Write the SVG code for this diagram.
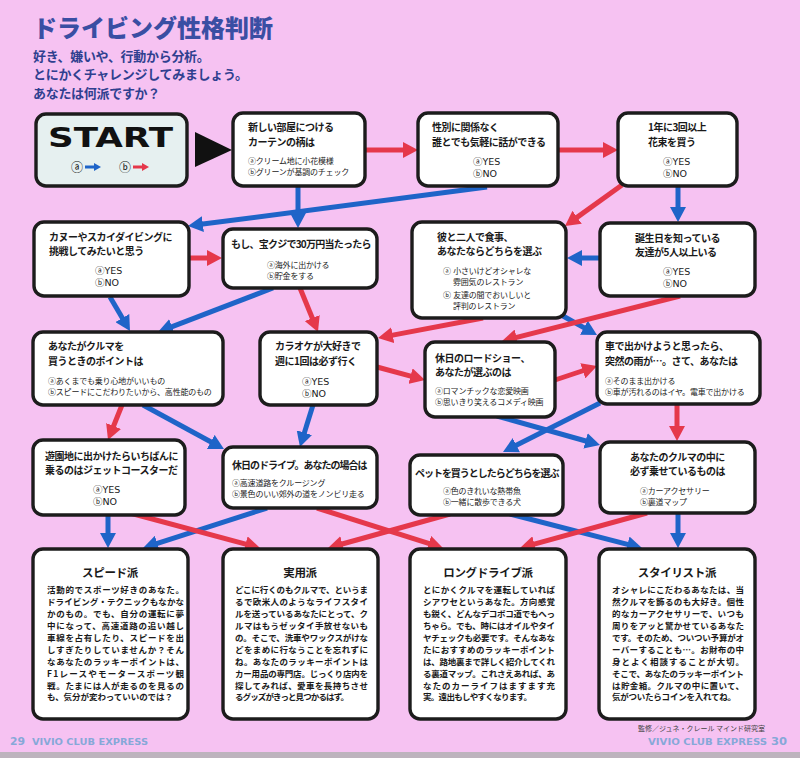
<svg xmlns="http://www.w3.org/2000/svg" width="800" height="758" viewBox="0 0 800 758">
<defs>
<style>
.box{fill:#fff;stroke:#1c1c1c;stroke-width:3.4}
.q{font-family:"Noto Sans CJK JP","Noto Sans CJK SC",sans-serif;font-weight:700;font-size:10px;letter-spacing:-0.5px;fill:#1a1a1a}
.o{font-family:"DejaVu Sans","Noto Sans CJK JP","Noto Sans CJK SC",sans-serif;font-size:8px;letter-spacing:-0.2px;fill:#1a1a1a}
.yn{font-family:"DejaVu Sans","Noto Sans CJK JP",sans-serif;font-size:9.5px;fill:#1a1a1a}
.rt{font-family:"Noto Sans CJK JP","Noto Sans CJK SC",sans-serif;font-weight:700;font-size:11.5px;letter-spacing:-0.3px;text-anchor:middle;fill:#1a1a1a}
.rb{font-family:"Noto Sans CJK JP","Noto Sans CJK SC",sans-serif;font-weight:700;font-size:8.5px;fill:#1a1a1a}
.b{stroke:#1f64c8;stroke-width:5;fill:none;marker-end:url(#ab)}
.r{stroke:#e5384b;stroke-width:5;fill:none;marker-end:url(#ar)}
.ttl{font-family:"Noto Sans CJK JP","Noto Sans CJK SC",sans-serif;font-weight:900;font-size:24px;fill:#3a4ea3}
.sub{font-family:"Noto Sans CJK JP","Noto Sans CJK SC",sans-serif;font-weight:700;font-size:13px;letter-spacing:-0.3px;fill:#2f3f8f}
.ft{font-family:"DejaVu Sans",sans-serif;font-weight:700;fill:#86a8d8}
</style>
<marker id="ab" markerUnits="userSpaceOnUse" markerWidth="16" markerHeight="16" refX="4" refY="8" orient="auto"><path d="M0,0 L15,8 L0,16 z" fill="#1f64c8"/></marker>
<marker id="ar" markerUnits="userSpaceOnUse" markerWidth="16" markerHeight="16" refX="4" refY="8" orient="auto"><path d="M0,0 L15,8 L0,16 z" fill="#e5384b"/></marker>
<marker id="sb" markerUnits="userSpaceOnUse" markerWidth="8" markerHeight="8" refX="2" refY="4" orient="auto"><path d="M0,0 L7,4 L0,8 z" fill="#1f64c8"/></marker>
<marker id="sr" markerUnits="userSpaceOnUse" markerWidth="8" markerHeight="8" refX="2" refY="4" orient="auto"><path d="M0,0 L7,4 L0,8 z" fill="#e5384b"/></marker>
</defs>
<rect x="0" y="0" width="800" height="758" fill="#f6c2f2"/>
<rect x="0" y="752" width="800" height="6" fill="#bdb3bd"/>

<g id="title">
<text class="ttl" x="33" y="37">ドライビング性格判断</text>
<text class="sub" x="33" y="61">好き、嫌いや、行動から分析。</text>
<text class="sub" x="33" y="79">とにかくチャレンジしてみましょう。</text>
<text class="sub" x="33" y="98">あなたは何派ですか？</text>
</g>

<g id="connectors">
<line class="b" x1="298" y1="186" x2="298" y2="217"/>
<line class="b" x1="487" y1="187" x2="198.9" y2="224.6"/>
<line class="b" x1="678" y1="187" x2="678" y2="211"/>
<line class="b" x1="600" y1="258" x2="578" y2="258"/>
<line class="b" x1="110" y1="297" x2="124.4" y2="321.5"/>
<line class="b" x1="273" y1="288" x2="168.3" y2="328.1"/>
<line class="b" x1="563" y1="316" x2="587.4" y2="329.6"/>
<line class="b" x1="143" y1="405" x2="214.3" y2="443.8"/>
<line class="b" x1="313" y1="405" x2="303.2" y2="436.5"/>
<line class="b" x1="497" y1="416" x2="589.4" y2="442"/>
<line class="b" x1="600" y1="403" x2="512.8" y2="447"/>
<line class="b" x1="108" y1="514" x2="108" y2="537"/>
<line class="b" x1="267" y1="508" x2="153.5" y2="544.6"/>
<line class="b" x1="510" y1="514" x2="631.4" y2="545.3"/>
<line class="b" x1="678" y1="513" x2="678" y2="537"/>
<line class="r" x1="365" y1="150" x2="407" y2="150"/>
<line class="r" x1="558" y1="150" x2="607" y2="150"/>
<line class="r" x1="622" y1="185" x2="573.9" y2="219.6"/>
<line class="r" x1="189" y1="258" x2="211" y2="258"/>
<line class="r" x1="300" y1="288" x2="313.8" y2="321.8"/>
<line class="r" x1="483" y1="318" x2="388.8" y2="335.9"/>
<line class="r" x1="680" y1="296" x2="512.7" y2="338.3"/>
<line class="r" x1="122" y1="405" x2="112.1" y2="429.8"/>
<line class="r" x1="377" y1="367" x2="414.4" y2="377.1"/>
<line class="r" x1="555" y1="380" x2="586.6" y2="369.5"/>
<line class="r" x1="677" y1="403" x2="677" y2="430"/>
<line class="r" x1="130" y1="513" x2="249.4" y2="545.1"/>
<line class="r" x1="317" y1="508" x2="432.5" y2="544.7"/>
<line class="r" x1="450" y1="514" x2="338.6" y2="545"/>
<line class="r" x1="647" y1="513" x2="530.6" y2="545.1"/>
</g>

<g id="start">
<rect x="36" y="114" width="151" height="72" rx="10" fill="#e6f0f0" stroke="#1c1c1c" stroke-width="3.4"/>
<text x="48" y="147" font-family="DejaVu Sans, sans-serif" font-weight="900" font-size="26" textLength="125" lengthAdjust="spacingAndGlyphs" fill="#111">START</text>
<text x="71" y="172" font-family="DejaVu Sans, Noto Sans CJK JP, sans-serif" font-size="12" fill="#111">ⓐ</text>
<line x1="85" y1="167" x2="96" y2="167" stroke="#1f64c8" stroke-width="3" marker-end="url(#sb)"/>
<text x="119" y="172" font-family="DejaVu Sans, Noto Sans CJK JP, sans-serif" font-size="12" fill="#111">ⓑ</text>
<line x1="133" y1="167" x2="144" y2="167" stroke="#e5384b" stroke-width="3" marker-end="url(#sr)"/>
<path d="M195,132 L232,150 L195,167 z" fill="#111"/>
</g>

<g id="n1">
<rect class="box" x="233" y="113" width="132" height="73" rx="10"/>
<text class="q" x="248" y="131">新しい部屋につける</text>
<text class="q" x="248" y="146">カーテンの柄は</text>
<text class="o" x="248" y="164">ⓐクリーム地に小花模様</text>
<text class="o" x="248" y="175">ⓑグリーンが基調のチェック</text>
</g>

<g id="n2">
<rect class="box" x="418" y="113" width="140" height="73" rx="10"/>
<text class="q" x="432" y="131">性別に関係なく</text>
<text class="q" x="432" y="146">誰とでも気軽に話ができる</text>
<text class="yn" x="473" y="165">ⓐYES</text>
<text class="yn" x="473" y="177">ⓑNO</text>
</g>

<g id="n3">
<rect class="box" x="618" y="113" width="119" height="73" rx="10"/>
<text class="q" x="648" y="131">1年に3回以上</text>
<text class="q" x="648" y="146">花束を買う</text>
<text class="yn" x="663" y="165">ⓐYES</text>
<text class="yn" x="663" y="177">ⓑNO</text>
</g>

<g id="n4">
<rect class="box" x="34" y="222" width="155" height="74" rx="10"/>
<text class="q" x="49" y="241">カヌーやスカイダイビングに</text>
<text class="q" x="49" y="255">挑戦してみたいと思う</text>
<text class="yn" x="95" y="274">ⓐYES</text>
<text class="yn" x="95" y="286">ⓑNO</text>
</g>

<g id="n5">
<rect class="box" x="223" y="229" width="154" height="59" rx="10"/>
<text class="q" x="231" y="248" textLength="140">もし、宝クジで30万円当たったら</text>
<text class="o" x="267" y="268">ⓐ海外に出かける</text>
<text class="o" x="267" y="279">ⓑ貯金をする</text>
</g>

<g id="n6">
<rect class="box" x="412" y="222" width="154" height="96" rx="10"/>
<text class="q" x="437" y="241">彼と二人で食事、</text>
<text class="q" x="437" y="255">あなたならどちらを選ぶ</text>
<text class="o" x="443" y="274">ⓐ 小さいけどオシャレな</text>
<text class="o" x="453" y="285">雰囲気のレストラン</text>
<text class="o" x="443" y="298">ⓑ 友達の間でおいしいと</text>
<text class="o" x="453" y="309">評判のレストラン</text>
</g>

<g id="n7">
<rect class="box" x="600" y="223" width="155" height="73" rx="10"/>
<text class="q" x="635" y="242">誕生日を知っている</text>
<text class="q" x="635" y="256">友達が5人以上いる</text>
<text class="yn" x="663" y="275">ⓐYES</text>
<text class="yn" x="663" y="287">ⓑNO</text>
</g>

<g id="n8">
<rect class="box" x="33" y="332" width="190" height="73" rx="10"/>
<text class="q" x="48" y="350">あなたがクルマを</text>
<text class="q" x="48" y="365">買うときのポイントは</text>
<text class="o" x="48" y="384">ⓐあくまでも乗り心地がいいもの</text>
<text class="o" x="48" y="395">ⓑスピードにこだわりたいから、高性能のもの</text>
</g>

<g id="n9">
<rect class="box" x="260" y="332" width="117" height="73" rx="10"/>
<text class="q" x="275" y="350">カラオケが大好きで</text>
<text class="q" x="275" y="365">週に1回は必ず行く</text>
<text class="yn" x="302" y="385">ⓐYES</text>
<text class="yn" x="302" y="397">ⓑNO</text>
</g>

<g id="n10">
<rect class="box" x="425" y="342" width="130" height="75" rx="10"/>
<text class="q" x="435" y="362">休日のロードショー、</text>
<text class="q" x="435" y="376">あなたが選ぶのは</text>
<text class="o" x="435" y="394">ⓐロマンチックな恋愛映画</text>
<text class="o" x="435" y="405">ⓑ思いきり笑えるコメディ映画</text>
</g>

<g id="n11">
<rect class="box" x="597" y="332" width="163" height="72" rx="10"/>
<text class="q" x="605" y="350">車で出かけようと思ったら、</text>
<text class="q" x="605" y="365">突然の雨が…。さて、あなたは</text>
<text class="o" x="605" y="384">ⓐそのまま出かける</text>
<text class="o" x="605" y="395">ⓑ車が汚れるのはイヤ。電車で出かける</text>
</g>

<g id="n12">
<rect class="box" x="33" y="440" width="152" height="75" rx="10"/>
<text class="q" x="45" y="460">遊園地に出かけたらいちばんに</text>
<text class="q" x="45" y="474">乗るのはジェットコースターだ</text>
<text class="yn" x="93" y="493">ⓐYES</text>
<text class="yn" x="93" y="505">ⓑNO</text>
</g>

<g id="n13">
<rect class="box" x="223" y="447" width="154" height="61" rx="10"/>
<text class="q" x="232" y="469" textLength="135">休日のドライブ。あなたの場合は</text>
<text class="o" x="232" y="486">ⓐ高速道路をクルージング</text>
<text class="o" x="232" y="497">ⓑ景色のいい郊外の道をノンビリ走る</text>
</g>

<g id="n14">
<rect class="box" x="410" y="455" width="153" height="60" rx="10"/>
<text class="q" x="415" y="477" textLength="144">ペットを買うとしたらどちらを選ぶ</text>
<text class="o" x="443" y="494">ⓐ色のきれいな熱帯魚</text>
<text class="o" x="443" y="505">ⓑ一緒に散歩できる犬</text>
</g>

<g id="n15">
<rect class="box" x="600" y="442" width="155" height="71" rx="10"/>
<text class="q" x="630" y="461">あなたのクルマの中に</text>
<text class="q" x="630" y="475">必ず乗せているものは</text>
<text class="o" x="640" y="494">ⓐカーアクセサリー</text>
<text class="o" x="640" y="505">ⓑ裏道マップ</text>
</g>

<g id="r1">
<rect class="box" x="33" y="549" width="155" height="170" rx="10"/>
<text class="rt" x="110" y="577">スピード派</text>
<text class="rb" x="47" y="593" textLength="137">活動的でスポーツ好きのあなた。</text>
<text class="rb" x="47" y="605" textLength="137">ドライビング・テクニックもなかな</text>
<text class="rb" x="47" y="617" textLength="137">かのもの。でも、自分の運転に夢</text>
<text class="rb" x="47" y="629" textLength="137">中になって、高速道路の追い越し</text>
<text class="rb" x="47" y="641" textLength="137">車線を占有したり、スピードを出</text>
<text class="rb" x="47" y="652.5" textLength="137">しすぎたりしていませんか？そん</text>
<text class="rb" x="47" y="664.5" textLength="137">なあなたのラッキーポイントは、</text>
<text class="rb" x="47" y="676.5" textLength="137">F1レースやモータースポーツ観</text>
<text class="rb" x="47" y="688.5" textLength="137">戦。たまには人が走るのを見るの</text>
<text class="rb" x="47" y="700" textLength="126">も、気分が変わっていいのでは？</text>
</g>

<g id="r2">
<rect class="box" x="223" y="549" width="155" height="170" rx="10"/>
<text class="rt" x="300" y="577">実用派</text>
<text class="rb" x="235" y="593" textLength="133">どこに行くのもクルマで、というま</text>
<text class="rb" x="235" y="605" textLength="133">るで欧米人のようなライフスタイ</text>
<text class="rb" x="235" y="617" textLength="133">ルを送っているあなたにとって、ク</text>
<text class="rb" x="235" y="629" textLength="133">ルマはもうゼッタイ手放せないも</text>
<text class="rb" x="235" y="641" textLength="133">の。そこで、洗車やワックスがけな</text>
<text class="rb" x="235" y="652.5" textLength="133">どをまめに行なうことを忘れずに</text>
<text class="rb" x="235" y="664.5" textLength="133">ね。あなたのラッキーポイントは</text>
<text class="rb" x="235" y="676.5" textLength="133">カー用品の専門店。じっくり店内を</text>
<text class="rb" x="235" y="688.5" textLength="133">探してみれば、愛車を長持ちさせ</text>
<text class="rb" x="235" y="700" textLength="114">るグッズがきっと見つかるはず。</text>
</g>

<g id="r3">
<rect class="box" x="410" y="549" width="156" height="170" rx="10"/>
<text class="rt" x="488" y="577">ロングドライブ派</text>
<text class="rb" x="423" y="593" textLength="132">とにかくクルマを運転していれば</text>
<text class="rb" x="423" y="605" textLength="132">シアワセというあなた。方向感覚</text>
<text class="rb" x="423" y="617" textLength="132">も鋭く、どんなデコボコ道でもへっ</text>
<text class="rb" x="423" y="629" textLength="132">ちゃら。でも、時にはオイルやタイ</text>
<text class="rb" x="423" y="641" textLength="132">ヤチェックも必要です。そんなあな</text>
<text class="rb" x="423" y="652.5" textLength="132">たにおすすめのラッキーポイント</text>
<text class="rb" x="423" y="664.5" textLength="132">は、路地裏まで詳しく紹介してくれ</text>
<text class="rb" x="423" y="676.5" textLength="132">る裏道マップ。これさえあれば、あ</text>
<text class="rb" x="423" y="688.5" textLength="132">なたのカーライフはますます充</text>
<text class="rb" x="423" y="700" textLength="109">実。遠出もしやすくなります。</text>
</g>

<g id="r4">
<rect class="box" x="599" y="549" width="156" height="170" rx="10"/>
<text class="rt" x="677" y="577">スタイリスト派</text>
<text class="rb" x="612" y="593" textLength="132">オシャレにこだわるあなたは、当</text>
<text class="rb" x="612" y="605" textLength="132">然クルマを飾るのも大好き。個性</text>
<text class="rb" x="612" y="617" textLength="132">的なカーアクセサリーで、いつも</text>
<text class="rb" x="612" y="629" textLength="132">周りをアッと驚かせているあなた</text>
<text class="rb" x="612" y="641" textLength="132">です。そのため、ついつい予算がオ</text>
<text class="rb" x="612" y="652.5" textLength="132">ーバーすることも…。お財布の中</text>
<text class="rb" x="612" y="664.5" textLength="132">身とよく相談することが大切。</text>
<text class="rb" x="612" y="676.5" textLength="132">そこで、あなたのラッキーポイント</text>
<text class="rb" x="612" y="688.5" textLength="132">は貯金箱。クルマの中に置いて、</text>
<text class="rb" x="612" y="700" textLength="124">気がついたらコインを入れてね。</text>
</g>

<g id="footer">
<text class="ft" x="10" y="745" font-size="11" textLength="15" lengthAdjust="spacingAndGlyphs">29</text>
<text class="ft" x="32" y="745" font-size="8" textLength="116" lengthAdjust="spacingAndGlyphs">VIVIO CLUB EXPRESS</text>
<text class="ft" x="648" y="745" font-size="8" textLength="119" lengthAdjust="spacingAndGlyphs">VIVIO CLUB EXPRESS</text>
<text class="ft" x="771" y="745" font-size="11" textLength="16" lengthAdjust="spacingAndGlyphs">30</text>
<text x="638" y="731" font-family="Noto Sans CJK JP, sans-serif" font-size="7" fill="#444">監修／ジュネ・クレール マインド研究室</text>
</g>
</svg>
